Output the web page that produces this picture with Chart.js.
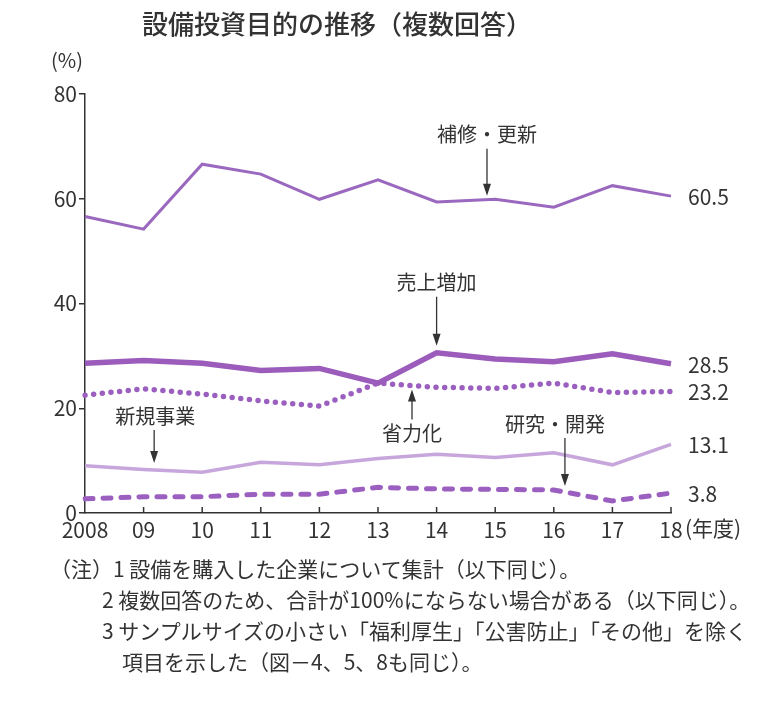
<!DOCTYPE html>
<html lang="ja">
<head>
<meta charset="utf-8">
<title>設備投資目的の推移</title>
<script src="https://cdn.jsdelivr.net/npm/chart.js@4.4.1/dist/chart.umd.min.js"></script>
<style>
    html, body { margin: 0; padding: 0; background: #fff; }
    #wrap { position: relative; width: 769px; height: 715px; }
    #notes {
        position: absolute; left: 50px; top: 553px;
        font: 21px 'Noto Sans CJK JP', sans-serif; color: #333; line-height: 31px;
    }
    #notes div { white-space: nowrap; }
    .n1 { padding-left: 0; }
    .n2 { padding-left: 52px; }
    .n4 { padding-left: 72px; }
</style>
</head>
<body>
<div id="wrap">
    <canvas id="investChart" width="769" height="715"></canvas>
    <div id="notes">
        <div class="n1">（注）1 設備を購入した企業について集計（以下同じ）。</div>
        <div class="n2">2 複数回答のため、合計が100%にならない場合がある（以下同じ）。</div>
        <div class="n2">3 サンプルサイズの小さい「福利厚生」「公害防止」「その他」を除く</div>
        <div class="n4">項目を示した（図－4、5、8も同じ）。</div>
    </div>
</div>
<script>
// ======================
// Data
// ======================
const years = ['2008', '09', '10', '11', '12', '13', '14', '15', '16', '17', '18'];
const repairValues = [56.6, 54.2, 66.6, 64.7, 59.9, 63.6, 59.4, 59.9, 58.4, 62.5, 60.5];
const salesValues = [28.6, 29.1, 28.6, 27.2, 27.6, 24.8, 30.6, 29.4, 28.9, 30.4, 28.5];
const laborValues = [22.5, 23.7, 22.7, 21.4, 20.4, 24.8, 24.0, 23.8, 24.8, 23.0, 23.2];
const newBizValues = [9.0, 8.3, 7.8, 9.7, 9.2, 10.4, 11.2, 10.6, 11.5, 9.2, 13.1];
const rdValues = [2.7, 3.1, 3.1, 3.6, 3.6, 4.9, 4.6, 4.5, 4.4, 2.3, 3.8];
const seriesNames = ['補修・更新', '売上増加', '省力化', '新規事業', '研究・開発'];
const yTicks = [0, 20, 40, 60, 80];

const FONT = "'Noto Sans CJK JP', sans-serif";
const INK = '#333';

// callouts: which series, where along x (category index), arrow direction
const callouts = [
    { series: 0, at: 6.86, dir: 'down', gap: 4, len: 47, dx: 0 },
    { series: 1, at: 6.0, dir: 'down', gap: 7, len: 49, dx: 0 },
    { series: 2, at: 5.58, dir: 'up', gap: 4, len: 30, dx: 0 },
    { series: 3, at: 1.18, dir: 'down', gap: 7, len: 33, dx: 1 },
    { series: 4, at: 8.19, dir: 'down', gap: 6, len: 48, dx: -10 }
];

// ======================
// Extra drawing
// ======================
const decorPlugin = {
    id: 'decor',
    afterDraw(chart) {
        const ctx = chart.ctx;
        const x = chart.scales.x;
        const y = chart.scales.y;
        const area = chart.chartArea;
        ctx.save();

        // inward x ticks
        ctx.strokeStyle = INK;
        ctx.lineWidth = 1.5;
        years.forEach((_, i) => {
            if (i === 0) return;
            const px = x.getPixelForValue(i);
            ctx.beginPath();
            ctx.moveTo(px, area.bottom);
            ctx.lineTo(px, area.bottom - 6);
            ctx.stroke();
        });

        ctx.fillStyle = INK;
        ctx.textBaseline = 'middle';

        // title
        ctx.font = '500 26px ' + FONT;
        ctx.textAlign = 'center';
        ctx.fillText('設備投資目的の推移（複数回答）', 337, 24);

        // unit labels
        ctx.font = '20px ' + FONT;
        ctx.fillText('(%)', 67, 60);
        ctx.textAlign = 'left';
        ctx.font = '21px ' + FONT;
        ctx.fillText('(年度)', x.getPixelForValue(years.length - 1) + 14, area.bottom + 15);

        // end values
        chart.data.datasets.forEach((ds) => {
            const last = ds.data[ds.data.length - 1];
            ctx.fillText(last.toFixed(1), area.right + 17, y.getPixelForValue(last) + 1);
        });

        // callouts
        ctx.font = '20px ' + FONT;
        ctx.textAlign = 'center';
        callouts.forEach((c) => {
            const data = chart.data.datasets[c.series].data;
            const i0 = Math.floor(c.at);
            const f = c.at - i0;
            const x0 = x.getPixelForValue(i0);
            const x1 = x.getPixelForValue(i0 + 1);
            const px = x0 + (x1 - x0) * f;
            const v = data[i0] + (data[i0 + 1] - data[i0]) * f;
            const py = y.getPixelForValue(v);
            const sign = c.dir === 'down' ? -1 : 1;
            const tipY = py + sign * c.gap;
            const tailY = tipY + sign * c.len;

            ctx.strokeStyle = INK;
            ctx.lineWidth = 1.3;
            ctx.beginPath();
            ctx.moveTo(px, tailY);
            ctx.lineTo(px, tipY + sign * 10);
            ctx.stroke();
            ctx.beginPath();
            ctx.moveTo(px, tipY);
            ctx.lineTo(px - 4, tipY + sign * 12);
            ctx.lineTo(px + 4, tipY + sign * 12);
            ctx.closePath();
            ctx.fill();

            ctx.fillText(seriesNames[c.series], px + c.dx, tailY + sign * 14);
        });

        ctx.restore();
    }
};

// ======================
// Chart
// ======================
const canvas = document.getElementById('investChart');

new Chart(canvas, {
    type: 'line',
    data: {
        labels: years,
        datasets: [{
            label: seriesNames[0],
            data: repairValues,
            borderColor: '#9a68bf',
            borderWidth: 3
        }, {
            label: seriesNames[1],
            data: salesValues,
            borderColor: '#9b5cbb',
            borderWidth: 5.5
        }, {
            label: seriesNames[2],
            data: laborValues,
            borderColor: '#9b5fbf',
            borderWidth: 5.5,
            borderDash: [0, 8.7],
            borderCapStyle: 'round'
        }, {
            label: seriesNames[3],
            data: newBizValues,
            borderColor: '#c7a6dc',
            borderWidth: 3.5
        }, {
            label: seriesNames[4],
            data: rdValues,
            borderColor: '#9b5fbf',
            borderWidth: 5,
            borderDash: [8, 10],
            borderCapStyle: 'round'
        }]
    },
    options: {
        responsive: false,
        animation: false,
        devicePixelRatio: 1,
        layout: {
            padding: { left: 0, right: 98, top: 94, bottom: 162 }
        },
        elements: {
            point: { radius: 0 },
            line: { tension: 0, fill: false }
        },
        scales: {
            x: {
                offset: false,
                afterFit(scale) { scale.height = 40; },
                grid: { display: false, drawTicks: false },
                border: { display: true, color: INK, width: 1.5 },
                ticks: {
                    color: INK,
                    padding: 4,
                    maxRotation: 0,
                    autoSkip: false,
                    font: { size: 21, family: FONT }
                }
            },
            y: {
                min: 0,
                max: 80,
                afterFit(scale) { scale.width = 85; },
                afterBuildTicks(scale) {
                    scale.ticks = yTicks.map(v => ({ value: v }));
                },
                grid: {
                    drawOnChartArea: false,
                    drawTicks: true,
                    tickLength: 6,
                    color: INK,
                    lineWidth: 1.5
                },
                border: { display: true, color: INK, width: 1.5 },
                ticks: {
                    color: INK,
                    padding: 2,
                    font: { size: 21, family: FONT }
                }
            }
        },
        plugins: {
            legend: { display: false },
            tooltip: { enabled: false }
        }
    },
    plugins: [decorPlugin]
});
</script>
</body>
</html>
